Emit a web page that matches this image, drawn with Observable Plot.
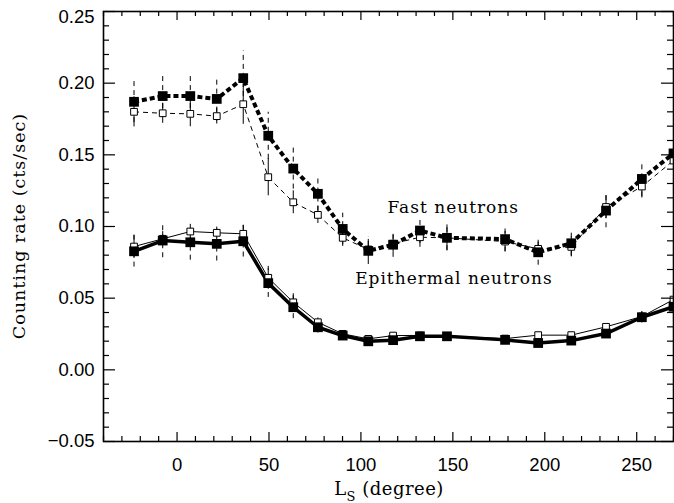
<!DOCTYPE html>
<html><head><meta charset="utf-8">
<script src="https://cdn.jsdelivr.net/npm/d3@7"></script>
<script src="https://cdn.jsdelivr.net/npm/@observablehq/plot@0.6"></script>
<style>body{margin:0;background:#fff} svg{display:block}</style>
</head><body><div id="chart"></div>
<script>
// Solar longitude of each bin (deg)
const ls = [-23.4, -7.8, 7.2, 21.6, 36.0, 49.6, 63.2, 76.6, 90.1, 104.0, 117.5, 132.1, 146.8, 178.4, 196.4, 214.4, 233.3, 252.8, 270];
// Fast neutrons
const fastFilled = [0.187, 0.191, 0.191, 0.189, 0.2035, 0.1633, 0.1404, 0.1228, 0.0983, 0.0830, 0.0873, 0.0972, 0.0921, 0.0912, 0.0820, 0.0883, 0.1111, 0.1332, 0.151];
const fastFilledErr = [0.0145, 0.015, 0.015, 0.0155, 0.019, 0.0164, 0.0143, 0.012, 0.011, 0.0095, 0.0088, 0.009, 0.009, 0.009, 0.009, 0.009, 0.012, 0.0125, 0.012];
const fastOpen = [0.180, 0.179, 0.1786, 0.177, 0.1853, 0.1344, 0.1169, 0.1081, 0.0921, 0.0840, 0.0880, 0.0925, 0.0921, 0.0895, 0.0844, 0.0858, 0.1136, 0.1279, 0.146];
const fastOpenErr = [0.0105, 0.007, 0.009, 0.0055, 0.014, 0.013, 0.008, 0.006, 0.006, 0.007, 0.006, 0.007, 0.009, 0.007, 0.006, 0.007, 0.008, 0.008, 0.008];
// Epithermal neutrons
const epiFilled = [0.0827, 0.0902, 0.0890, 0.0879, 0.0897, 0.0605, 0.0437, 0.0297, 0.0239, 0.0199, 0.0207, 0.0234, 0.0234, 0.0209, 0.0187, 0.0204, 0.0253, 0.0367, 0.044];
const epiFilledErr = [0.011, 0.012, 0.0125, 0.012, 0.011, 0.010, 0.008, 0.004, 0.003, 0.003, 0.003, 0.002, 0.002, 0.002, 0.002, 0.002, 0.003, 0.004, 0.004];
const epiOpen = [0.0860, 0.0914, 0.0965, 0.0956, 0.0949, 0.0642, 0.0471, 0.0332, 0.0251, 0.0216, 0.0239, 0.0240, 0.0236, 0.0218, 0.0242, 0.0242, 0.0300, 0.0372, 0.049];
const epiOpenErr = [0.008, 0.005, 0.005, 0.004, 0.006, 0.008, 0.006, 0.003, 0.002, 0.002, 0.002, 0.002, 0.002, 0.002, 0.002, 0.002, 0.002, 0.003, 0.003];

const xTicks = [0, 50, 100, 150, 200, 250];
const yTicks = [-0.05, 0, 0.05, 0.10, 0.15, 0.20, 0.25];
const xMinor = d3.range(-40, 271, 10);
const yMinor = d3.range(-5, 26).map(d => d / 100);
const labels = [
  {x: 150.2, y: 0.1132, text: "Fast neutrons"},
  {x: 150.6, y: 0.0637, text: "Epithermal neutrons"}
];

const rows = (v, e) => ls.map((x, i) => ({x, y: v[i], lo: v[i] - e[i], hi: v[i] + e[i]}));
const FF = rows(fastFilled, fastFilledErr), FO = rows(fastOpen, fastOpenErr);
const EF = rows(epiFilled, epiFilledErr), EO = rows(epiOpen, epiOpenErr);

const W = 674, H = 503, mL = 103, mR = 1, mT = 11, mB = 62;
const pw = W - mL - mR, ph = H - mT - mB;
const isMajorX = d => d % 50 === 0;
const isMajorY = d => Math.round(d * 100) % 5 === 0;

const tx = (data, len, side) => Plot.tickX(data, {x: d => d, stroke: "black", strokeWidth: 1.2,
  ...(side === "bottom" ? {insetTop: ph - len} : {insetBottom: ph - len})});
const ty = (data, len, side) => Plot.tickY(data, {y: d => d, stroke: "black", strokeWidth: 1.2,
  ...(side === "left" ? {insetRight: pw - len} : {insetLeft: pw - len})});

const xMaj = xMinor.filter(isMajorX), xMin = xMinor.filter(d => !isMajorX(d));
const yMaj = yMinor.filter(isMajorY), yMin = yMinor.filter(d => !isMajorY(d));

const chart = Plot.plot({
  width: W, height: H,
  marginLeft: mL, marginRight: mR, marginTop: mT, marginBottom: mB,
  style: {fontFamily: "Liberation Sans, Arial, sans-serif", fontSize: "18.5px", background: "white", color: "black"},
  x: {domain: [-40, 270]},
  y: {domain: [-0.05, 0.25]},
  marks: [
    // error bars
    Plot.ruleX(FF, {x: "x", y1: "lo", y2: "hi", stroke: "black", strokeWidth: 1, strokeDasharray: "5,4", clip: true}),
    Plot.ruleX(FO, {x: "x", y1: "lo", y2: "hi", stroke: "black", strokeWidth: 1, clip: true}),
    Plot.ruleX(EF, {x: "x", y1: "lo", y2: "hi", stroke: "black", strokeWidth: 1, strokeDasharray: "5,4", clip: true}),
    Plot.ruleX(EO, {x: "x", y1: "lo", y2: "hi", stroke: "black", strokeWidth: 1, clip: true}),
    // lines
    Plot.line(FO, {x: "x", y: "y", stroke: "black", strokeWidth: 1, strokeDasharray: "5,4", strokeLinecap: "butt", clip: true}),
    Plot.line(FF, {x: "x", y: "y", stroke: "black", strokeWidth: 4, strokeDasharray: "5,3", strokeLinecap: "butt", strokeLinejoin: "miter", clip: true}),
    Plot.line(EO, {x: "x", y: "y", stroke: "black", strokeWidth: 1, clip: true}),
    Plot.line(EF, {x: "x", y: "y", stroke: "black", strokeWidth: 3.5, clip: true}),
    // markers
    Plot.dot(FO, {x: "x", y: "y", symbol: "square", r: 3.8, fill: "white", stroke: "black", strokeWidth: 1, clip: true}),
    Plot.dot(EO, {x: "x", y: "y", symbol: "square", r: 3.8, fill: "white", stroke: "black", strokeWidth: 1, clip: true}),
    Plot.dot(FF, {x: "x", y: "y", symbol: "square", r: 5.5, fill: "black", clip: true}),
    Plot.dot(EF, {x: "x", y: "y", symbol: "square", r: 5.5, fill: "black", clip: true}),
    // annotations
    Plot.text(labels, {x: "x", y: "y", text: "text", fontFamily: "DejaVu Serif, serif", fontSize: 17, fill: "black", textAnchor: "middle", lineAnchor: "middle"}),
    // inward ticks on all four sides
    tx(xMaj, 9, "bottom"), tx(xMin, 5, "bottom"), tx(xMaj, 9, "top"), tx(xMin, 5, "top"),
    ty(yMaj, 12, "left"), ty(yMin, 6, "left"), ty(yMaj, 12, "right"), ty(yMin, 6, "right"),
    Plot.axisX({ticks: xTicks, tickSize: 0, tickPadding: 16, label: null, fontSize: 18.5}),
    Plot.axisY({ticks: yTicks, tickSize: 0, tickPadding: 9, label: null, tickFormat: d3.format(".2f"), fontSize: 18.5}),
    Plot.frame({stroke: "black", strokeWidth: 1.6})
  ]
});

document.getElementById("chart").appendChild(chart);
const svg = d3.select(chart);
// letter spacing for serif annotations (IDL-like wide text)
svg.selectAll("text").filter(function() { return /neutrons/.test(this.textContent); })
  .style("letter-spacing", "1px");
// the top y label sits a little below the frame edge in the original
svg.selectAll("text").filter(function() { return this.textContent === "0.25"; })
  .attr("dy", function() { return (parseFloat(this.getAttribute("dy")) || 0) + 6; });

// axis titles
const xt = svg.append("text")
  .attr("x", 389).attr("y", 495)
  .attr("text-anchor", "middle")
  .attr("font-family", "DejaVu Serif, serif")
  .attr("font-size", 18)
  .style("letter-spacing", "0.5px")
  .attr("fill", "black");
xt.append("tspan").text("L");
xt.append("tspan").attr("font-size", 13).attr("dy", 6).text("S");
xt.append("tspan").attr("dy", -6).text(" (degree)");

svg.append("text")
  .attr("transform", "translate(20,226) rotate(-90)")
  .attr("text-anchor", "middle")
  .attr("dominant-baseline", "middle")
  .attr("font-family", "DejaVu Serif, serif")
  .attr("font-size", 17.5)
  .style("letter-spacing", "1px")
  .attr("fill", "black")
  .text("Counting rate (cts/sec)");
</script>
</body></html>
